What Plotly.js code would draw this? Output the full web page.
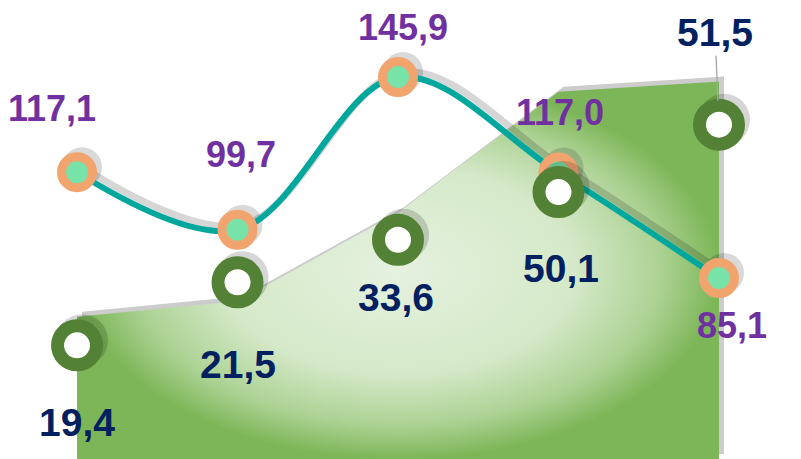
<!DOCTYPE html>
<html><head><meta charset="utf-8">
<script src="https://cdn.plot.ly/plotly-3.0.1.min.js"></script>
<style>html,body{margin:0;padding:0;background:#fff;overflow:hidden}#chart{width:801px;height:459px}</style>
</head><body><div id="chart"></div>
<script>
// ---- data ----
const categories = ['A', 'B', 'C', 'D', 'E'];
const lineValues = [117.1, 99.7, 145.9, 117.0, 85.1];
const areaValues = [19.4, 21.5, 33.6, 50.1, 51.5];
// heights (area-axis units) at which the area series' ring markers sit in the picture
const areaMarkerLevels = [15.5, 24.1, 29.9, 36.4, 45.6];

// ---- layout / style ----
const W = 801, H = 459;
const X_RANGE = [-0.48, 4.511];
const LINE_RANGE = [30.35, 169.2];
const AREA_RANGE = [0, 62.6];
const SH_DX = 5, SH_DY = 5; // shadow offset in px (right, up)

function shiftX(r, px) { const u = (r[1] - r[0]) / W * px; return [r[0] - u, r[1] - u]; }
function shiftY(r, px) { const u = (r[1] - r[0]) / H * px; return [r[0] - u, r[1] - u]; }
const fmt = v => v.toFixed(1).replace('.', ',');

const traces = [
  // L1 area shadow
  {x: categories, y: areaValues, xaxis: 'x', yaxis: 'y', type: 'scatter', mode: 'lines',
   fill: 'tozeroy', fillcolor: 'rgba(0,0,0,0.2)', line: {width: 0, color: 'rgba(0,0,0,0)'}, hoverinfo: 'skip'},
  // L2 area fill
  {x: categories, y: areaValues, xaxis: 'x2', yaxis: 'y2', type: 'scatter', mode: 'lines',
   fill: 'tozeroy', line: {width: 0, color: 'rgba(0,0,0,0)'},
   fillgradient: {type: 'radial', colorscale: [[0, '#e5f1de'], [0.55, '#d5e9c9'], [0.82, '#acd293'], [1, '#7db658']]}},
  // L3 line shadow + marker shadows
  {x: categories, y: lineValues, xaxis: 'x3', yaxis: 'y3', type: 'scatter', mode: 'lines+markers',
   line: {shape: 'spline', width: 7, color: 'rgba(0,0,0,0.16)'},
   marker: {size: 40, color: 'rgba(0,0,0,0.15)', line: {width: 0}}},
  // L4 line
  {x: categories, y: lineValues, xaxis: 'x4', yaxis: 'y4', type: 'scatter', mode: 'lines+markers',
   line: {shape: 'spline', width: 6, color: '#00a79d'},
   marker: {size: 31, color: '#77e3a9', line: {width: 9, color: '#f2a46f'}}},
  // L5 area marker shadows
  {x: categories, y: areaMarkerLevels, xaxis: 'x5', yaxis: 'y5', type: 'scatter', mode: 'markers',
   marker: {size: 52, color: 'rgba(0,0,0,0.16)', line: {width: 0}}},
  // L6 area markers
  {x: categories, y: areaMarkerLevels, xaxis: 'x6', yaxis: 'y6', type: 'scatter', mode: 'markers',
   marker: {size: 39, color: '#ffffff', line: {width: 13, color: '#538135'}}}
];

const ax = (range, extra) => Object.assign({range: range, visible: false, fixedrange: true}, extra || {});
const layout = {
  width: W, height: H, margin: {l: 0, r: 0, t: 0, b: 0},
  paper_bgcolor: '#ffffff', plot_bgcolor: 'rgba(0,0,0,0)', showlegend: false,
  xaxis: ax(shiftX(X_RANGE, SH_DX), {type: 'category'}),
  yaxis: ax(shiftY(AREA_RANGE, SH_DY)),
  xaxis2: ax(X_RANGE, {type: 'category', overlaying: 'x'}),
  yaxis2: ax(AREA_RANGE, {overlaying: 'y'}),
  xaxis3: ax(shiftX(X_RANGE, SH_DX), {type: 'category', overlaying: 'x'}),
  yaxis3: ax(shiftY(LINE_RANGE, SH_DY), {overlaying: 'y'}),
  xaxis4: ax(X_RANGE, {type: 'category', overlaying: 'x'}),
  yaxis4: ax(LINE_RANGE, {overlaying: 'y'}),
  xaxis5: ax(shiftX(X_RANGE, SH_DX), {type: 'category', overlaying: 'x'}),
  yaxis5: ax(shiftY(AREA_RANGE, SH_DY), {overlaying: 'y'}),
  xaxis6: ax(X_RANGE, {type: 'category', overlaying: 'x'}),
  yaxis6: ax(AREA_RANGE, {overlaying: 'y'}),
  annotations: []
};

const FONT = '"Liberation Sans", Arial, sans-serif';
const lineOffsets = [[-25, 64], [3, 75], [5, 50], [1, 60], [13, -47]];
const areaOffsets = [[0, -77], [0, -82], [-2, -58], [2, -76], [-4, 92]];
lineValues.forEach((v, i) => layout.annotations.push({
  x: i, y: v, xref: 'x4', yref: 'y4', text: fmt(v), showarrow: false,
  xshift: lineOffsets[i][0], yshift: lineOffsets[i][1],
  font: {family: FONT, size: 36, color: '#7030a0', weight: 'bold'}
}));
areaValues.forEach((v, i) => {
  const last = i === areaValues.length - 1;
  const a = {x: i, y: areaMarkerLevels[i], xref: 'x6', yref: 'y6', text: fmt(v),
    font: {family: FONT, size: 39, color: '#002060', weight: 'bold'}};
  if (last) {
    Object.assign(a, {showarrow: true, ax: areaOffsets[i][0], ay: -areaOffsets[i][1], arrowhead: 0,
      arrowwidth: 1.3, arrowcolor: '#a6a6a6', standoff: 24});
  } else {
    Object.assign(a, {showarrow: false, xshift: areaOffsets[i][0], yshift: areaOffsets[i][1]});
  }
  layout.annotations.push(a);
});

Plotly.newPlot('chart', traces, layout, {displayModeBar: false, staticPlot: true});
</script></body></html>
